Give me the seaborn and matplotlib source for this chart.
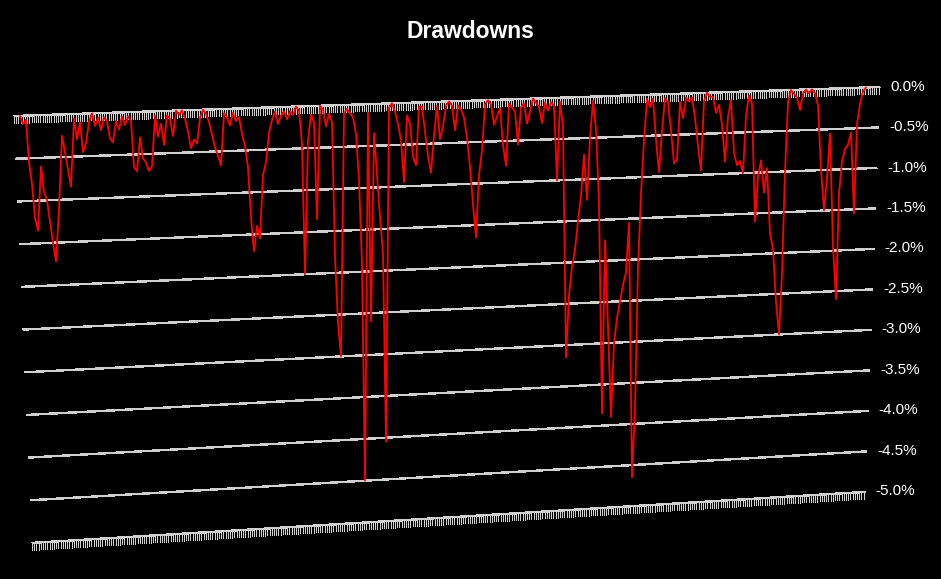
import numpy as np
import matplotlib
matplotlib.use("Agg")
import matplotlib.pyplot as plt
import matplotlib.transforms as mtransforms
from matplotlib.collections import LineCollection
import seaborn as sns

# drawdown series (% from running peak) left to right
drawdown = [
    0.00, -0.10, -0.05, -0.55, -0.80, -1.20, -1.35, -0.60, -0.90, -1.00,
    -1.25, -1.50, -1.72, -1.10, -0.25, -0.45, -0.65, -0.85, -0.05, -0.30,
    -0.10, -0.45, -0.35, -0.10, 0.00, -0.15, -0.05, -0.20, -0.05, -0.10,
    -0.30, -0.35, -0.10, -0.20, -0.05, -0.15, -0.05, -0.10, -0.65, -0.70,
    -0.30, -0.55, -0.60, -0.70, -0.65, -0.05, -0.30, -0.15, -0.40, -0.05,
    -0.10, -0.30, 0.00, -0.05, 0.00, -0.10, -0.25, -0.45, -0.35, -0.40,
    -0.10, 0.00, -0.05, -0.15, -0.30, -0.45, -0.55, -0.67, -0.05, -0.10,
    -0.20, -0.05, -0.15, -0.10, -0.30, -0.45, -0.70, -1.30, -1.70, -1.40,
    -1.55, -0.80, -0.65, -0.30, -0.15, -0.05, -0.20, -0.10, -0.05, -0.15,
    -0.05, -0.10, 0.00, -0.05, -0.45, -2.00, -0.40, -0.10, -0.20, -1.35,
    0.00, -0.05, -0.25, -0.10, -0.20, -1.80, -2.60, -3.00, -0.10, -0.05,
    -0.10, -0.15, -0.35, -0.90, -1.90, -4.50, -0.10, -2.60, -0.35, -0.85,
    -1.35, -1.80, -4.05, -0.05, 0.00, -0.10, -0.25, -0.45, -0.95, -0.15,
    -0.25, -0.65, -0.75, -0.05, -0.05, -0.35, -0.65, -0.85, -0.40, -0.05,
    -0.45, -0.30, -0.05, 0.00, -0.05, -0.35, -0.05, -0.10, -0.20, -0.45,
    -0.80, -1.25, -1.65, -0.90, -0.60, -0.05, 0.00, -0.05, -0.30, -0.20,
    -0.10, -0.55, -0.80, -0.05, -0.10, -0.15, -0.55, -0.10, -0.05, -0.30,
    -0.15, 0.00, -0.05, -0.10, -0.30, -0.05, -0.15, -0.05, -0.10, -1.00,
    -0.05, -0.35, -3.15, -2.40, -2.05, -1.85, -1.50, -1.20, -0.70, -1.25,
    -0.50, -0.05, -0.40, -1.30, -3.85, -1.75, -2.80, -3.90, -3.00, -2.70,
    -2.50, -2.30, -2.15, -1.55, -4.65, -3.80, -2.10, -1.20, -0.55, -0.05,
    -0.15, -0.05, -0.55, -0.95, -0.45, -0.05, -0.10, -0.45, -0.85, -0.80,
    -0.10, -0.30, -0.05, -0.10, -0.05, -0.30, -0.65, -0.95, -0.10, 0.00,
    -0.05, -0.05, -0.25, -0.15, -0.40, -0.85, -0.30, -0.10, -0.75, -0.90,
    -0.85, -1.00, -0.30, -0.05, -0.15, -1.60, -1.05, -0.85, -1.25, -0.95,
    -1.75, -1.95, -2.60, -3.00, -2.25, -1.00, -0.15, 0.00, -0.05, -0.10,
    -0.25, -0.05, 0.00, -0.05, 0.00, -0.05, -0.20, -1.00, -1.50, -1.10,
    -0.55, -1.95, -2.60, -1.30, -0.90, -0.75, -0.70, -0.55, -1.55, -0.45,
    -0.20, -0.05, 0.00,
]
days = np.arange(len(drawdown))
levels = [0.0, -0.5, -1.0, -1.5, -2.0, -2.5, -3.0, -3.5, -4.0, -4.5, -5.0]

W, H = 941, 579


class Perspective(mtransforms.Transform):
    """Maps (a, b) frame coords (a: 0..1 left->right, b: 1 = 0%, 0 = -5%)
    onto the tilted panel, in pixels."""
    input_dims = 2
    output_dims = 2
    is_separable = False

    def transform_non_affine(self, values):
        values = np.asarray(values, dtype=float)
        a, b = values[:, 0], values[:, 1]
        x = 14 + 866 * a
        y_top = 116 - 29 * a
        y_bot = 544 - 53 * a
        y = y_bot + (y_top - y_bot) * b
        return np.column_stack([x, H - y])


def edges(b):
    # gridlines get shorter toward the bottom of the panel
    return 18 * (1 - b) / 866, 1 - 15 * (1 - b) / 866


sns.set_theme(style="dark", rc={"axes.facecolor": "black",
                                "figure.facecolor": "black"})
plt.rcParams["font.family"] = ["Liberation Sans", "DejaVu Sans"]

fig = plt.figure(figsize=(W / 100, H / 100), dpi=100)
ax = fig.add_axes([0, 0, 1, 1])
ax.set_axis_off()

sns.lineplot(x=days, y=drawdown, ax=ax, color="red", linewidth=1.3, zorder=5)
ax.set_autoscale_on(False)
ax.set_xlim(-2, -2 + 866 / 3)
ax.set_ylim(-5, 0)

panel = Perspective()
for line in ax.lines:
    line.set_transform(ax.transScale + ax.transLimits + panel)
    line.set_clip_on(False)

# gridlines + right-hand labels
grid = []
for lvl in levels:
    b = (lvl + 5) / 5
    a0, a1 = edges(b)
    grid.append([(a0, b), (a1, b)])
    ax.text(a1 + 0.012, b, f"{lvl:.1f}%", transform=panel, color="white",
            ha="left", va="center", fontsize=11)
gc = LineCollection(grid, colors="#cfcfcf", linewidths=1.0,
                    transform=panel, zorder=2, antialiaseds=False)
gc.set_clip_on(False)
ax.add_collection(gc, autolim=False)

# dense tick "rulers" along the top (0%) and bottom (-5%) edges
ticks = []
for b in (1.0, 0.0):
    a0, a1 = edges(b)
    for a in np.arange(a0, a1, 2.2 / 866):
        ticks.append([(a, b), (a, b - 0.0165)])
tc = LineCollection(ticks, colors="#cfcfcf", linewidths=0.72,
                    transform=panel, zorder=3, antialiaseds=False)
tc.set_clip_on(False)
ax.add_collection(tc, autolim=False)

fig.text(0.5, 1 - 31 / H, "Drawdowns", ha="center", va="center",
         color="white", fontsize=16.5, fontweight="bold")

fig.savefig("out.png", dpi=100, facecolor="black")
